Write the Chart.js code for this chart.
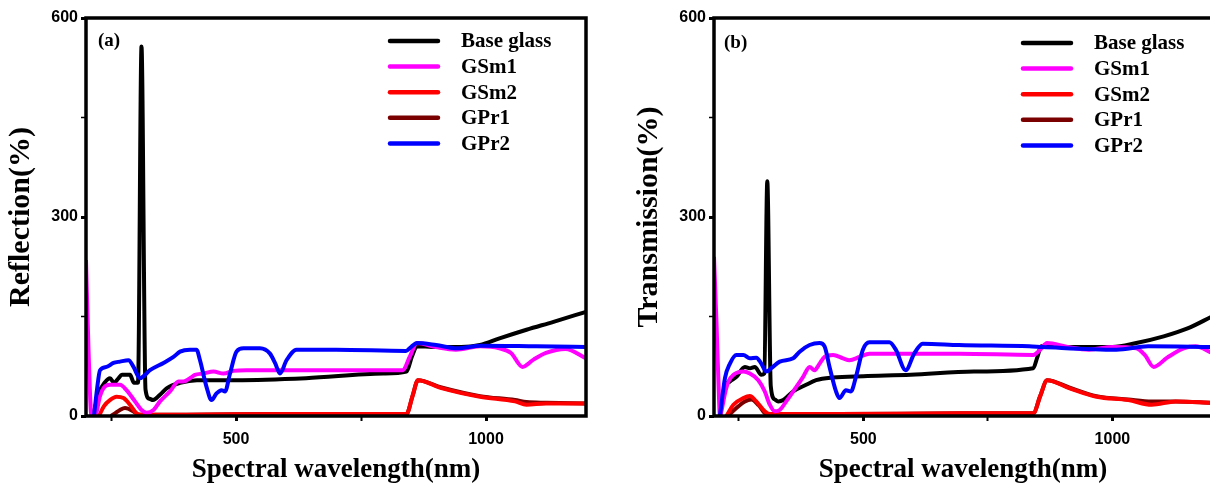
<!DOCTYPE html>
<html lang="en">
<head>
<meta charset="UTF-8">
<title>Reflection and transmission spectra</title>
<script src="https://cdn.jsdelivr.net/npm/chart.js"></script>
<style>
  html, body { margin: 0; padding: 0; background: #fff; overflow: hidden; }
  body { width: 1210px; height: 486px; position: relative; }
  .panel { position: absolute; top: 0; width: 600px; height: 486px; }
  #panelA { left: 0; }
  #panelB { left: 628px; }
</style>
</head>
<body>
<div class="panel" id="panelA"><canvas id="chartA"></canvas></div>
<div class="panel" id="panelB"><canvas id="chartB"></canvas></div>
<script>
const seriesNames = ['Base glass', 'GSm1', 'GSm2', 'GPr1', 'GPr2'];
const seriesColors = ['#000000', '#ff00ff', '#ff0000', '#7a0000', '#0000ff'];
const drawOrder = [4, 2, 3, 5, 1];   // lower = drawn on top

const xTicks = [250, 500, 750, 1000];
const xTickLabels = ['', '500', '', '1000'];
const yTicks = [0, 150, 300, 450, 600];
const yTickLabels = ['0', '', '300', '', '600'];

// (a) Reflection
const aBaseWl  = [214, 226, 238, 248, 256, 264, 272, 288, 296, 304, 311, 319, 327, 334, 348, 362, 388, 422, 500, 640, 795, 841, 852, 862, 910, 950, 988, 1027, 1081, 1135, 1200];
const aBaseVal = [0, 35, 51, 57, 50, 56, 62, 62, 50, 50, 557, 40, 26, 24, 32, 42, 50, 54, 54, 57, 64, 67, 90, 105, 104, 104, 107, 117, 130, 142, 157];
const aSm1Wl   = [200, 205, 211, 218, 228, 235, 248, 268, 281, 298, 311, 321, 335, 348, 368, 385, 395, 408, 418, 435, 455, 475, 495, 521, 700, 833, 848, 862, 900, 940, 988, 1027, 1050, 1073, 1095, 1120, 1159, 1200];
const aSm1Val  = [235, 100, 0, 0, 30, 42, 47, 47, 39, 22, 9, 5, 9, 22, 37, 52, 52, 57, 62, 64, 67, 64, 68, 69, 69, 69, 90, 110, 104, 100, 105, 102, 95, 74, 85, 95, 101, 87];
const aSm2Wl   = [226, 236, 248, 261, 275, 288, 301, 311, 400, 600, 841, 853, 864, 911, 988, 1058, 1081, 1120, 1200];
const aSm2Val  = [0, 15, 24, 29, 27, 17, 4, 2, 2, 3, 3, 30, 54, 42, 29, 22, 17, 19, 19];
const aPr1Wl   = [250, 258, 268, 278, 295, 305, 400, 600, 841, 853, 864, 911, 988, 1058, 1081, 1120, 1200];
const aPr1Val  = [0, 4, 9, 12, 7, 2, 2, 3, 3, 30, 54, 43, 30, 24, 21, 20, 19];
const aPr2Wl   = [216, 222, 228, 241, 255, 268, 285, 295, 308, 318, 328, 355, 375, 388, 408, 421, 428, 441, 451, 461, 471, 478, 488, 501, 515, 548, 568, 578, 588, 601, 621, 700, 840, 850, 862, 900, 942, 990, 1100, 1200];
const aPr2Val  = [0, 40, 69, 74, 80, 82, 84, 74, 57, 62, 69, 80, 89, 97, 100, 100, 84, 44, 24, 34, 39, 37, 64, 97, 102, 102, 94, 80, 64, 84, 100, 100, 98, 104, 110, 107, 102, 106, 105, 104];

// (b) Transmission
const bBaseWl  = [212, 217, 222, 232, 245, 262, 272, 282, 295, 301, 307, 314, 322, 329, 339, 359, 385, 405, 439, 500, 595, 722, 841, 849, 857, 900, 1000, 1048, 1103, 1151, 1200];
const bBaseVal = [0, 25, 44, 52, 59, 74, 72, 74, 62, 64, 354, 45, 25, 22, 24, 37, 47, 54, 58, 60, 62, 67, 72, 88, 105, 104, 104, 110, 120, 132, 150];
const bSm1Wl   = [200, 205, 209, 212, 217, 222, 229, 239, 259, 272, 289, 302, 312, 322, 332, 345, 359, 379, 392, 402, 412, 422, 439, 459, 472, 492, 512, 692, 841, 855, 869, 910, 953, 1000, 1048, 1065, 1083, 1110, 1143, 1167, 1200];
const bSm1Val  = [240, 140, 50, 0, 15, 34, 52, 62, 67, 64, 54, 37, 17, 7, 9, 22, 37, 59, 74, 69, 79, 89, 92, 87, 84, 89, 94, 94, 92, 100, 110, 104, 100, 104, 102, 92, 74, 88, 102, 105, 95];
const bSm2Wl   = [225, 239, 259, 272, 285, 302, 312, 450, 700, 841, 855, 869, 913, 968, 1032, 1079, 1127, 1200];
const bSm2Val  = [0, 17, 27, 30, 22, 7, 3, 3, 4, 4, 30, 54, 42, 29, 24, 17, 22, 20];
const bPr1Wl   = [228, 245, 262, 275, 290, 305, 450, 700, 841, 855, 869, 913, 968, 1032, 1079, 1127, 1200];
const bPr1Val  = [0, 12, 22, 25, 16, 3, 3, 4, 4, 30, 54, 43, 30, 25, 22, 22, 20];
const bPr2Wl   = [212, 222, 232, 245, 259, 272, 285, 295, 305, 315, 332, 359, 372, 392, 412, 422, 432, 445, 452, 465, 475, 485, 499, 512, 552, 565, 585, 602, 619, 692, 833, 860, 1008, 1072, 1200];
const bPr2Val  = [0, 57, 79, 92, 92, 87, 88, 79, 67, 72, 82, 87, 97, 107, 110, 105, 74, 37, 27, 39, 37, 59, 100, 111, 111, 100, 69, 94, 109, 107, 105, 104, 100, 105, 104];

const serif = '"Liberation Serif", "Times New Roman", serif';
const sans = '"Liberation Sans", Arial, sans-serif';

function makeDatasets(pairs) {
    return pairs.map((p, i) => ({
        label: seriesNames[i],
        data: p[0].map((w, k) => ({ x: w, y: p[1][k] })),
        borderColor: seriesColors[i],
        backgroundColor: seriesColors[i],
        borderWidth: 4,
        pointRadius: 0,
        fill: false,
        cubicInterpolationMode: 'monotone',
        order: drawOrder[i]
    }));
}

// frame, panel tag and the legend drawn inside the plot area
const panelDecor = {
    id: 'panelDecor',
    afterDatasetsDraw(chart, args, opts) {
        const { ctx, chartArea: a } = chart;
        ctx.save();
        ctx.strokeStyle = '#000';
        ctx.lineWidth = 3.5;
        ctx.strokeRect(a.left, a.top, a.right - a.left, a.bottom - a.top);

        ctx.fillStyle = '#000';
        ctx.textBaseline = 'middle';
        ctx.font = 'bold 19px ' + serif;
        ctx.fillText(opts.tag, a.left + opts.tagDx, a.top + opts.tagDy);

        ctx.font = 'bold 21px ' + serif;
        ctx.lineCap = 'round';
        seriesNames.forEach((name, i) => {
            const y = a.top + opts.legendDy + i * 25.6;
            const x0 = a.left + opts.legendDx;
            ctx.strokeStyle = seriesColors[i];
            ctx.lineWidth = 4.5;
            ctx.beginPath();
            ctx.moveTo(x0, y);
            ctx.lineTo(x0 + 48, y);
            ctx.stroke();
            ctx.fillText(name, x0 + 71, y + 1);
        });
        ctx.restore();
    }
};

function makeOptions(yTitle, decor, rightPad) {
    return {
        responsive: true,
        maintainAspectRatio: false,
        animation: false,
        devicePixelRatio: 1,
        layout: { padding: { top: 18, right: rightPad, bottom: 0, left: 0 } },
        plugins: {
            legend: { display: false },
            tooltip: { enabled: false },
            panelDecor: decor
        },
        scales: {
            x: {
                type: 'linear',
                min: 200,
                max: 1200,
                afterBuildTicks: s => { s.ticks = xTicks.map(v => ({ value: v })); },
                afterFit: s => { s.height = 70; },
                ticks: {
                    autoSkip: false,
                    maxRotation: 0,
                    padding: 9,
                    color: '#000',
                    font: { family: sans, size: 16, weight: 'bold' },
                    callback: (v, i) => xTickLabels[i]
                },
                grid: {
                    drawOnChartArea: false,
                    tickLength: 5,
                    tickWidth: c => (xTickLabels[c.index] ? 3 : 2),
                    tickColor: '#000'
                },
                border: { display: false },
                title: {
                    display: true,
                    text: 'Spectral wavelength(nm)',
                    color: '#000',
                    font: { family: serif, size: 27, weight: 'bold' },
                    padding: { top: 0, bottom: 0 }
                }
            },
            y: {
                min: 0,
                max: 600,
                afterBuildTicks: s => { s.ticks = yTicks.map(v => ({ value: v })); },
                afterFit: s => { s.width = 86; },
                ticks: {
                    autoSkip: false,
                    padding: 3,
                    color: '#000',
                    font: { family: sans, size: 16, weight: 'bold' },
                    callback: (v, i) => yTickLabels[i]
                },
                grid: {
                    drawOnChartArea: false,
                    tickLength: 5,
                    tickWidth: c => (yTickLabels[c.index] ? 3 : 1.5),
                    tickColor: '#000'
                },
                border: { display: false },
                title: {
                    display: true,
                    text: yTitle,
                    color: '#000',
                    font: { family: serif, size: 30, weight: 'bold' },
                    padding: { top: 3, bottom: 0 }
                }
            }
        }
    };
}

new Chart(document.getElementById('chartA'), {
    type: 'line',
    data: {
        datasets: makeDatasets([
            [aBaseWl, aBaseVal], [aSm1Wl, aSm1Val], [aSm2Wl, aSm2Val], [aPr1Wl, aPr1Val], [aPr2Wl, aPr2Val]
        ])
    },
    options: makeOptions('Reflection(%)', { tag: '(a)', tagDx: 12, tagDy: 23, legendDx: 304, legendDy: 23 }, 14),
    plugins: [panelDecor]
});

new Chart(document.getElementById('chartB'), {
    type: 'line',
    data: {
        datasets: makeDatasets([
            [bBaseWl, bBaseVal], [bSm1Wl, bSm1Val], [bSm2Wl, bSm2Val], [bPr1Wl, bPr1Val], [bPr2Wl, bPr2Val]
        ])
    },
    options: makeOptions('Transmission(%)', { tag: '(b)', tagDx: 10, tagDy: 25, legendDx: 309, legendDy: 25 }, 16),
    plugins: [panelDecor]
});
</script>
</body>
</html>
